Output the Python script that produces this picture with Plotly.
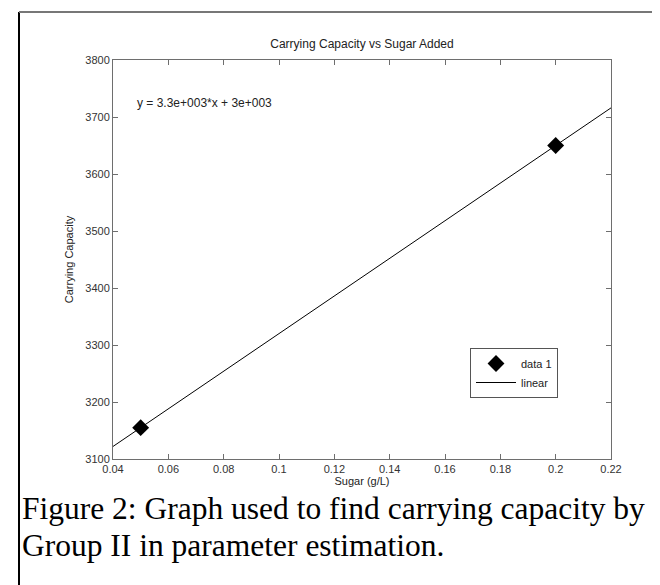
import numpy as np
import plotly.graph_objects as go

# Data
sugar = [0.05, 0.2]
capacity = [3155, 3650]
x_ticks = [0.04, 0.06, 0.08, 0.1, 0.12, 0.14, 0.16, 0.18, 0.2, 0.22]
x_tick_labels = ["0.04", "0.06", "0.08", "0.1", "0.12", "0.14", "0.16", "0.18", "0.2", "0.22"]
y_ticks = [3100, 3200, 3300, 3400, 3500, 3600, 3700, 3800]
y_tick_labels = ["3100", "3200", "3300", "3400", "3500", "3600", "3700", "3800"]
x_range = [0.04, 0.22]
y_range = [3100, 3800]

# linear fit from the data
slope, intercept = np.polyfit(sugar, capacity, 1)
fit_x = np.array(x_range)
fit_y = slope * fit_x + intercept

W, H = 660, 585
L, R, T, B = 105, 57, 52, 134
pw, ph = W - L - R, H - T - B

def px(X):
    return (X - L) / pw

def py(Y):
    return (H - B - Y) / ph

axis_col = "#6e6e6e"
font = "Liberation Sans, Arial, sans-serif"

fig = go.Figure()
fig.add_trace(go.Scatter(
    x=sugar, y=capacity, mode="markers", name="data 1",
    marker=dict(symbol="diamond", size=13, color="black"),
))
fig.add_trace(go.Scatter(
    x=fit_x, y=fit_y, mode="lines", name="linear",
    line=dict(color="black", width=1),
))

fig.update_layout(
    width=W, height=H,
    margin=dict(l=L, r=R, t=T, b=B),
    paper_bgcolor="white", plot_bgcolor="white",
    font=dict(family=font, size=11, color="#333333"),
    title=dict(text="Carrying Capacity vs Sugar Added", x=0.5 * (L + W - R) / W,
               xanchor="center", y=1 - 36 / H, yanchor="middle",
               font=dict(size=12, color="#222222")),
    showlegend=True,
    legend=dict(x=px(462), y=py(340), xanchor="left", yanchor="top",
                bordercolor="#555555", borderwidth=1, bgcolor="white",
                font=dict(size=11, color="#222222"), tracegroupgap=0,
                itemwidth=40),
)
fig.update_xaxes(
    range=x_range, tickvals=x_ticks, ticktext=x_tick_labels,
    showline=True, linecolor=axis_col, linewidth=1, mirror="ticks",
    ticks="inside", ticklen=5, tickcolor=axis_col, showgrid=False, zeroline=False,
    tickfont=dict(size=11, color="#333333"),
    title=dict(text="Sugar (g/L)", font=dict(size=11, color="#222222"), standoff=0),
)
fig.update_yaxes(
    range=y_range, tickvals=y_ticks, ticktext=y_tick_labels,
    showline=True, linecolor=axis_col, linewidth=1, mirror="ticks",
    ticks="inside", ticklen=5, tickcolor=axis_col, showgrid=False, zeroline=False,
    tickfont=dict(size=11, color="#333333"),
    title=dict(text="Carrying Capacity", font=dict(size=11, color="#222222"), standoff=9),
)

# equation text
fig.add_annotation(x=0.048, y=3725, xref="x", yref="y", text="y = 3.3e+003*x + 3e+003",
                   showarrow=False, xanchor="left", yanchor="middle",
                   font=dict(size=12, color="#222222", family=font))

# outer frame
fig.add_shape(type="line", xref="paper", yref="paper", x0=px(11), x1=px(11), y0=py(4), y1=py(620),
              line=dict(color="black", width=2))
fig.add_shape(type="line", xref="paper", yref="paper", x0=px(11), x1=px(652), y0=py(4), y1=py(4),
              line=dict(color="#777777", width=2))
fig.add_shape(type="line", xref="paper", yref="paper", x0=px(652), x1=px(652), y0=py(4), y1=py(620),
              line=dict(color="black", width=2))

# caption
serif = "Liberation Serif, Times New Roman, serif"
fig.add_annotation(x=px(12), y=py(500), xref="paper", yref="paper",
                   text="Figure 2: Graph used to find carrying capacity by",
                   showarrow=False, xanchor="left", yanchor="middle",
                   font=dict(size=31.5, color="black", family=serif))
fig.add_annotation(x=px(12), y=py(537), xref="paper", yref="paper",
                   text="Group II in parameter estimation.",
                   showarrow=False, xanchor="left", yanchor="middle",
                   font=dict(size=31.5, color="black", family=serif))

fig.write_html("out.html")
